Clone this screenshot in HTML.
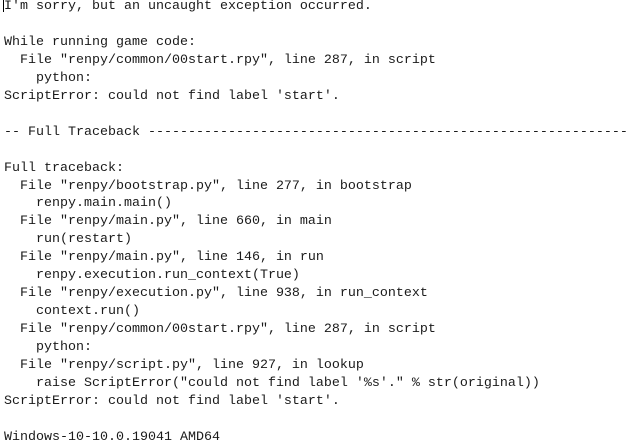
<!DOCTYPE html>
<html><head><meta charset="utf-8"><style>
html,body{margin:0;padding:0;background:#fff;width:629px;height:445px;overflow:hidden;}
pre{position:absolute;left:4px;top:-2px;margin:0;font-family:"Liberation Mono",monospace;font-size:13.33px;line-height:17.95px;color:#1a1a1a;}
.cur{position:absolute;left:3px;top:-2px;width:1px;height:14px;background:#000;}
</style></head><body>
<pre>I'm sorry, but an uncaught exception occurred.

While running game code:
  File "renpy/common/00start.rpy", line 287, in script
    python:
ScriptError: could not find label 'start'.

-- Full Traceback ------------------------------------------------------------

Full traceback:
  File "renpy/bootstrap.py", line 277, in bootstrap
    renpy.main.main()
  File "renpy/main.py", line 660, in main
    run(restart)
  File "renpy/main.py", line 146, in run
    renpy.execution.run_context(True)
  File "renpy/execution.py", line 938, in run_context
    context.run()
  File "renpy/common/00start.rpy", line 287, in script
    python:
  File "renpy/script.py", line 927, in lookup
    raise ScriptError("could not find label '%s'." % str(original))
ScriptError: could not find label 'start'.

Windows-10-10.0.19041 AMD64</pre>
<div class="cur"></div>
</body></html>
